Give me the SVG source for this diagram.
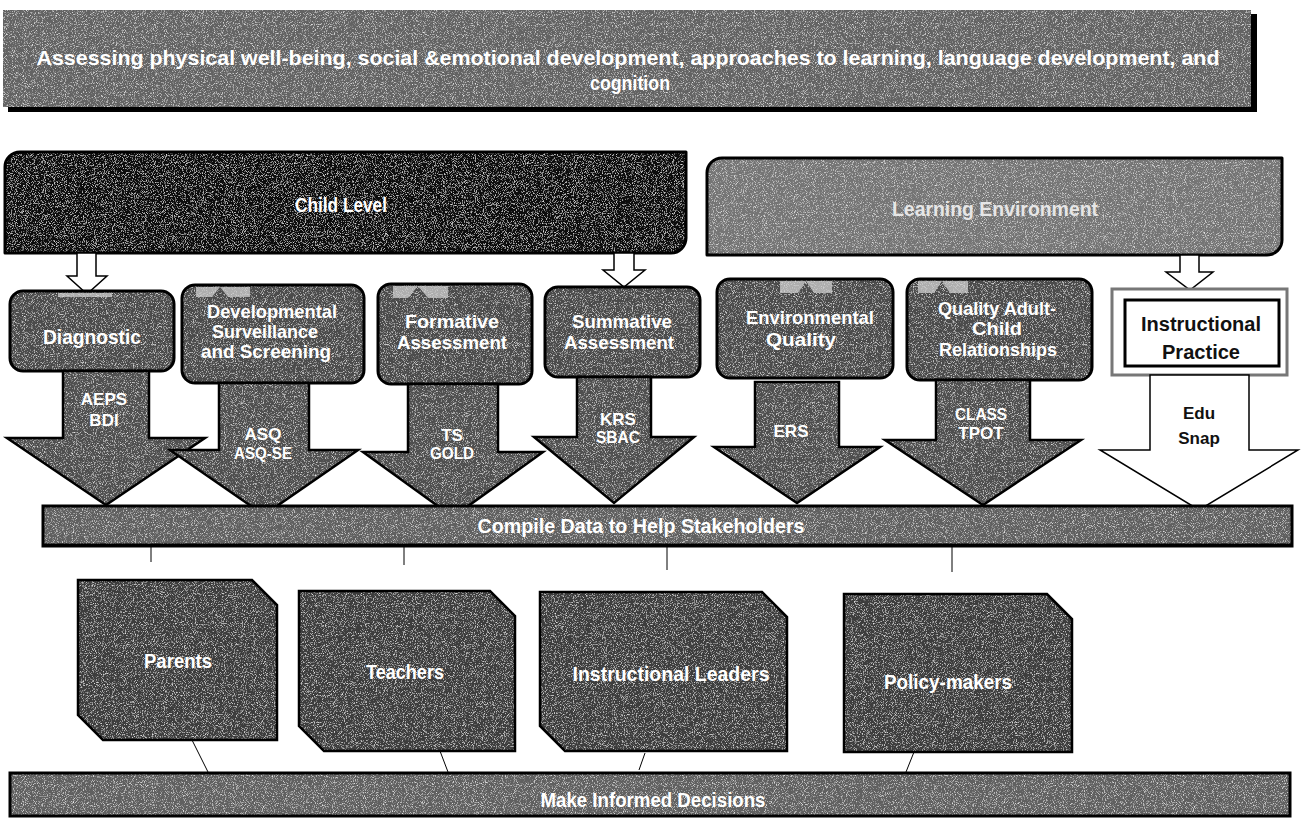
<svg xmlns="http://www.w3.org/2000/svg" width="1302" height="821" viewBox="0 0 1302 821">
<defs>
<filter id="grain" x="0" y="0" width="100%" height="100%">
<feTurbulence type="fractalNoise" baseFrequency="1.1" numOctaves="2" seed="3" result="n"/>
<feColorMatrix in="n" type="matrix" values="0 0 0 0 1  0 0 0 0 1  0 0 0 0 1  2.2 0 0 0 -1.15" result="spk"/>
<feComposite in="spk" in2="SourceGraphic" operator="in" result="spkIn"/>
<feMerge><feMergeNode in="SourceGraphic"/><feMergeNode in="spkIn"/></feMerge>
</filter>
<style>
.lbl{font-family:"Liberation Sans",Arial,sans-serif;font-weight:bold;fill:#fff;text-anchor:middle;}
.ol{fill:none;stroke:#000;stroke-width:3;stroke-linejoin:round;}
.olm{fill:none;stroke:#000;stroke-width:2.5;stroke-linejoin:miter;}
.dark{fill:#3c3c3c;}
.box{fill:#4b4b4b;}
.arr{fill:#4f4f4f;}
.hol{fill:#fff;stroke:#000;stroke-width:1.5;}
.bar{fill:#606060;}
.ghost{fill:#cfcfcf;opacity:0.75;}
.thin{stroke:#000;stroke-width:1;fill:none;}
</style>
<path id="pChild" d="M5,167 A15,15 0 0 1 20,152 L686,152 L686,238 A15,15 0 0 1 671,253 L5,253 Z"/>
<path id="pLE" d="M707,173 A15,15 0 0 1 722,158 L1282,158 L1282,240 A15,15 0 0 1 1267,255 L707,255 Z"/>
<rect id="bDiag" x="10" y="291" width="164" height="80" rx="13"/>
<rect id="bDev" x="182" y="285" width="182" height="98" rx="13"/>
<rect id="bForm" x="378" y="284" width="154" height="100" rx="13"/>
<rect id="bSum" x="545" y="287" width="155" height="90" rx="13"/>
<rect id="bEnv" x="717" y="279" width="176" height="99" rx="13"/>
<rect id="bQual" x="907" y="279" width="185" height="101" rx="13"/>
<path id="aDiag" d="M63,371 L149,371 L149,438 L205,438 L106,505 L7,438 L63,438 Z"/>
<path id="aAsq" d="M219,383 L309,383 L309,450 L358,450 L264,515 L170,450 L219,450 Z"/>
<path id="aTs" d="M408,384 L498,384 L498,452 L543,452 L453,517 L363,452 L408,452 Z"/>
<path id="aKrs" d="M577,377 L651,377 L651,437 L694,437 L614,503 L534,437 L577,437 Z"/>
<path id="aErs" d="M755,382 L839,382 L839,447 L880,447 L797,503 L714,447 L755,447 Z"/>
<path id="aCls" d="M936,380 L1030,380 L1030,440 L1081,440 L983,505 L885,440 L936,440 Z"/>
<path id="sPar" d="M78,580 L252,580 L277,605 L277,740 L103,740 L78,715 Z"/>
<path id="sTea" d="M299,591 L490,591 L515,616 L515,751 L324,751 L299,726 Z"/>
<path id="sLea" d="M540,592 L762,592 L787,617 L787,751 L565,751 L540,726 Z"/>
<path id="sPol" d="M844,594 L1047,594 L1072,619 L1072,752 L844,752 Z"/>
</defs>
<rect width="1302" height="821" fill="#fff"/>

<g id="banner">
<rect x="8" y="14" width="1249" height="98" fill="#000"/>
<rect x="3" y="10" width="1248" height="97" fill="#646464" filter="url(#grain)"/>
<text class="lbl" x="628" y="65" font-size="21" textLength="1183" lengthAdjust="spacingAndGlyphs">Assessing physical well-being, social &amp;emotional development, approaches to learning, language development, and</text>
<text class="lbl" x="630" y="90" font-size="21" textLength="80" lengthAdjust="spacingAndGlyphs">cognition</text>
</g>

<g id="child-level">
<use href="#pChild" fill="#111" filter="url(#grain)"/>
<use href="#pChild" class="ol" stroke-width="2"/>
<text class="lbl" x="341" y="212" font-size="20" textLength="92" lengthAdjust="spacingAndGlyphs">Child Level</text>
</g>

<g id="learning-environment">
<use href="#pLE" fill="#747474" filter="url(#grain)"/>
<use href="#pLE" class="ol"/>
<text class="lbl" x="995" y="216" font-size="20" style="fill:#e6e6e6" textLength="206" lengthAdjust="spacingAndGlyphs">Learning Environment</text>
</g>

<g id="connectors">
<path class="hol" d="M77,253 L96,253 L96,276 L107,276 L87,294 L67,276 L77,276 Z"/>
<path class="hol" d="M614,253 L634,253 L634,270 L645,270 L624,287 L603,270 L614,270 Z"/>
<path class="hol" d="M1180,255 L1199,255 L1199,272 L1213,272 L1190,290 L1166,272 L1180,272 Z"/>
<line class="thin" x1="151" y1="546" x2="151" y2="562"/>
<line class="thin" x1="404" y1="546" x2="404" y2="565"/>
<line class="thin" x1="667" y1="546" x2="667" y2="570"/>
<line class="thin" x1="952" y1="546" x2="952" y2="572"/>
<line class="thin" x1="192" y1="740" x2="208" y2="772"/>
<line class="thin" x1="440" y1="751" x2="448" y2="772"/>
<line class="thin" x1="645" y1="753" x2="639" y2="770"/>
<line class="thin" x1="914" y1="752" x2="906" y2="772"/>
</g>

<g id="diagnostic">
<use href="#bDiag" class="box" filter="url(#grain)"/>
<use href="#bDiag" class="ol"/>
<rect class="ghost" x="58" y="293" width="54" height="4"/>
<text class="lbl" x="92" y="344" font-size="20" textLength="98" lengthAdjust="spacingAndGlyphs">Diagnostic</text>
</g>
<g id="developmental">
<use href="#bDev" class="box" filter="url(#grain)"/>
<use href="#bDev" class="ol"/>
<path class="ghost" d="M196,287 L250,287 L250,297 L228,297 L220,287 L212,297 L196,297 Z"/>
<text class="lbl" x="272" y="318" font-size="19" textLength="130" lengthAdjust="spacingAndGlyphs">Developmental</text>
<text class="lbl" x="265" y="338" font-size="19" textLength="106" lengthAdjust="spacingAndGlyphs">Surveillance</text>
<text class="lbl" x="266" y="358" font-size="19" textLength="130" lengthAdjust="spacingAndGlyphs">and  Screening</text>
</g>
<g id="formative">
<use href="#bForm" class="box" filter="url(#grain)"/>
<use href="#bForm" class="ol"/>
<path class="ghost" d="M393,286 L448,286 L448,298 L428,298 L418,286 L408,298 L393,298 Z"/>
<text class="lbl" x="452" y="328" font-size="19" textLength="94" lengthAdjust="spacingAndGlyphs">Formative</text>
<text class="lbl" x="452" y="349" font-size="19" textLength="110" lengthAdjust="spacingAndGlyphs">Assessment</text>
</g>
<g id="summative">
<use href="#bSum" class="box" filter="url(#grain)"/>
<use href="#bSum" class="ol"/>
<text class="lbl" x="622" y="328" font-size="19" textLength="100" lengthAdjust="spacingAndGlyphs">Summative</text>
<text class="lbl" x="619" y="349" font-size="19" textLength="110" lengthAdjust="spacingAndGlyphs">Assessment</text>
</g>
<g id="environmental">
<use href="#bEnv" class="box" filter="url(#grain)"/>
<use href="#bEnv" class="ol"/>
<path class="ghost" d="M780,281 L832,281 L832,293 L814,293 L806,281 L798,293 L780,293 Z"/>
<text class="lbl" x="810" y="324" font-size="19" textLength="128" lengthAdjust="spacingAndGlyphs">Environmental</text>
<text class="lbl" x="801" y="346" font-size="19" textLength="70" lengthAdjust="spacingAndGlyphs">Quality</text>
</g>
<g id="quality-relationships">
<use href="#bQual" class="box" filter="url(#grain)"/>
<use href="#bQual" class="ol"/>
<path class="ghost" d="M918,281 L968,281 L968,293 L950,293 L942,281 L934,293 L918,293 Z"/>
<text class="lbl" x="997" y="315" font-size="19" textLength="118" lengthAdjust="spacingAndGlyphs">Quality Adult-</text>
<text class="lbl" x="997" y="335" font-size="19" textLength="50" lengthAdjust="spacingAndGlyphs">Child</text>
<text class="lbl" x="998" y="356" font-size="19" textLength="118" lengthAdjust="spacingAndGlyphs">Relationships</text>
</g>
<g id="instructional-practice">
<rect x="1112" y="289" width="175" height="86" fill="#fff" stroke="#777" stroke-width="3"/>
<rect x="1125" y="300" width="154" height="66" fill="#fff" stroke="#000" stroke-width="3"/>
<text class="lbl" x="1201" y="331" font-size="20" style="fill:#111" textLength="120" lengthAdjust="spacingAndGlyphs">Instructional</text>
<text class="lbl" x="1201" y="359" font-size="20" style="fill:#111" textLength="78" lengthAdjust="spacingAndGlyphs">Practice</text>
</g>

<g id="tool-aeps-bdi">
<use href="#aDiag" class="arr" filter="url(#grain)"/>
<use href="#aDiag" class="olm"/>
<text class="lbl" x="104" y="405" font-size="17">AEPS</text>
<text class="lbl" x="104" y="426" font-size="17">BDI</text>
</g>
<g id="tool-asq">
<use href="#aAsq" class="arr" filter="url(#grain)"/>
<use href="#aAsq" class="olm"/>
<text class="lbl" x="263" y="440" font-size="17">ASQ</text>
<text class="lbl" x="263" y="459" font-size="17" textLength="58" lengthAdjust="spacingAndGlyphs">ASQ-SE</text>
</g>
<g id="tool-ts-gold">
<use href="#aTs" class="arr" filter="url(#grain)"/>
<use href="#aTs" class="olm"/>
<text class="lbl" x="452" y="441" font-size="17">TS</text>
<text class="lbl" x="452" y="459" font-size="17" textLength="44" lengthAdjust="spacingAndGlyphs">GOLD</text>
</g>
<g id="tool-krs-sbac">
<use href="#aKrs" class="arr" filter="url(#grain)"/>
<use href="#aKrs" class="olm"/>
<text class="lbl" x="618" y="425" font-size="17">KRS</text>
<text class="lbl" x="618" y="443" font-size="17" textLength="44" lengthAdjust="spacingAndGlyphs">SBAC</text>
</g>
<g id="tool-ers">
<use href="#aErs" class="arr" filter="url(#grain)"/>
<use href="#aErs" class="olm"/>
<text class="lbl" x="791" y="437" font-size="17">ERS</text>
</g>
<g id="tool-class-tpot">
<use href="#aCls" class="arr" filter="url(#grain)"/>
<use href="#aCls" class="olm"/>
<text class="lbl" x="981" y="420" font-size="17" textLength="52" lengthAdjust="spacingAndGlyphs">CLASS</text>
<text class="lbl" x="981" y="439" font-size="17">TPOT</text>
</g>
<g id="tool-edu-snap">
<path d="M1150,375 L1249,375 L1249,450 L1298,450 L1199,510 L1100,450 L1150,450 Z" fill="#fff" stroke="#000" stroke-width="1.5"/>
<text class="lbl" x="1199" y="419" font-size="17" style="fill:#111">Edu</text>
<text class="lbl" x="1199" y="444" font-size="17" style="fill:#111">Snap</text>
</g>

<g id="compile-data">
<rect class="bar" x="43" y="506" width="1249" height="40" filter="url(#grain)"/>
<rect x="43" y="506" width="1249" height="40" fill="none" stroke="#000" stroke-width="3"/>
<line x1="44" y1="545" x2="1292" y2="545" stroke="#000" stroke-width="3"/>
<text class="lbl" x="641" y="533" font-size="20" textLength="327" lengthAdjust="spacingAndGlyphs">Compile Data to Help Stakeholders</text>
</g>

<g id="parents">
<use href="#sPar" class="dark" filter="url(#grain)"/>
<use href="#sPar" class="olm" stroke-width="3"/>
<text class="lbl" x="178" y="668" font-size="20" textLength="68" lengthAdjust="spacingAndGlyphs">Parents</text>
</g>
<g id="teachers">
<use href="#sTea" class="dark" filter="url(#grain)"/>
<use href="#sTea" class="olm" stroke-width="3"/>
<text class="lbl" x="405" y="679" font-size="20" textLength="78" lengthAdjust="spacingAndGlyphs">Teachers</text>
</g>
<g id="instructional-leaders">
<use href="#sLea" class="dark" filter="url(#grain)"/>
<use href="#sLea" class="olm" stroke-width="3"/>
<text class="lbl" x="671" y="681" font-size="20" textLength="197" lengthAdjust="spacingAndGlyphs">Instructional Leaders</text>
</g>
<g id="policy-makers">
<use href="#sPol" class="dark" filter="url(#grain)"/>
<use href="#sPol" class="olm" stroke-width="3"/>
<text class="lbl" x="948" y="689" font-size="20" textLength="128" lengthAdjust="spacingAndGlyphs">Policy-makers</text>
</g>

<g id="make-decisions">
<rect class="bar" x="10" y="773" width="1280" height="43" filter="url(#grain)"/>
<rect x="10" y="773" width="1280" height="43" fill="none" stroke="#000" stroke-width="3"/>
<text class="lbl" x="653" y="807" font-size="20" textLength="225" lengthAdjust="spacingAndGlyphs">Make Informed Decisions</text>
</g>
</svg>
